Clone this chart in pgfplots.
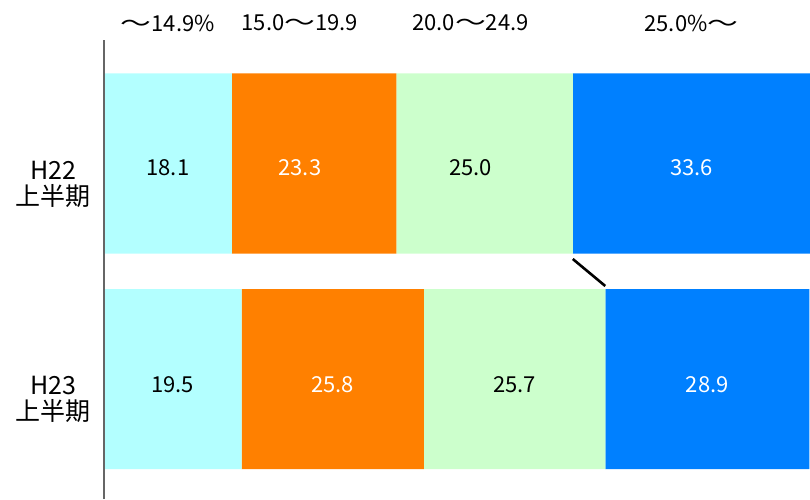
\documentclass[border=0pt]{standalone}
\usepackage{fontspec}
\setmainfont{Noto Sans CJK JP}
\usepackage{graphicx}
\usepackage{pgfplots}
\pgfplotsset{compat=1.18}

\definecolor{segA}{HTML}{B3FFFF}
\definecolor{segB}{HTML}{FF8000}
\definecolor{segC}{HTML}{CCFFCC}
\definecolor{segD}{HTML}{0080FF}

\newcommand\wave{\scalebox{1.4}[1]{～}}

\pgfplotsset{frame/.style={
  at={(104pt,0pt)}, anchor=south west,
  x=7.06pt, y=1pt,
  xmin=0, xmax=100, ymin=0, ymax=499,
  hide axis, clip=false}}

\begin{document}
\begin{tikzpicture}[x=1pt,y=1pt]
\path[use as bounding box] (0,0) rectangle (810,499);
% stacked bars: H22 at y=335.5, H23 at y=120
\begin{axis}[frame,
  xbar stacked, bar width=180pt,
  every axis plot/.append style={draw=none}]
\addplot[fill=segA] coordinates {(18.1,335.5) (19.5,120)};
\addplot[fill=segB] coordinates {(23.3,335.5) (25.8,120)};
\addplot[fill=segC] coordinates {(25.0,335.5) (25.7,120)};
\addplot[fill=segD] coordinates {(33.6,335.5) (28.9,120)};
\end{axis}

% labels and lines on top of the bars
\begin{axis}[frame]
\draw[gray!80!black, line width=1.5pt] (axis cs:0,0) -- (axis cs:0,459);
\draw[black, line width=2.6pt] (axis cs:66.4,240) -- (axis cs:71.0,213);

\tikzset{val/.style={font=\fontsize{22}{24}\selectfont, inner sep=0pt}}
% H22 values
\node[val, black] at (axis cs:9.05,331) {18.1};
\node[val, white] at (axis cs:27.75,331) {23.3};
\node[val, black] at (axis cs:51.9,331) {25.0};
\node[val, white] at (axis cs:83.2,331) {33.6};
% H23 values
\node[val, black] at (axis cs:9.75,114) {19.5};
\node[val, white] at (axis cs:32.4,114) {25.8};
\node[val, black] at (axis cs:58.15,114) {25.7};
\node[val, white] at (axis cs:85.45,114) {28.9};

% class headers
\node[val, black] at (axis cs:9.05,476) {\wave 14.9\%};
\node[val, black] at (axis cs:27.75,476) {15.0\wave 19.9};
\node[val, black] at (axis cs:51.9,476) {20.0\wave 24.9};
\node[val, black] at (axis cs:83.2,476) {25.0\%\wave};

% period labels
\tikzset{cat/.style={font=\fontsize{25}{26}\selectfont, align=center, inner sep=0pt, xshift=-51pt}}
\node[cat] at (axis cs:0,315) {H22\\上半期};
\node[cat] at (axis cs:0,100) {H23\\上半期};
\end{axis}
\end{tikzpicture}
\end{document}
